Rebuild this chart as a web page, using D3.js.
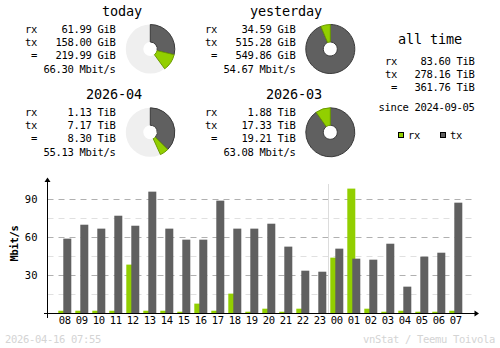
<!DOCTYPE html>
<html><head><meta charset="utf-8">
<script src="https://cdn.jsdelivr.net/npm/d3@7"></script>
<style>
html,body{margin:0;padding:0;background:#fff;}
svg{display:block;}
text{font-family:'DejaVu Sans Mono',monospace;}
</style></head>
<body>
<script>
// ---- data ----
const periods = ["today", "yesterday", "2026-04", "2026-03"];
const rxText = ["61.99 GiB", "34.59 GiB", "1.13 TiB", "1.88 TiB"];
const txText = ["158.00 GiB", "515.28 GiB", "7.17 TiB", "17.33 TiB"];
const totText = ["219.99 GiB", "549.86 GiB", "8.30 TiB", "19.21 TiB"];
const rateText = ["66.30 Mbit/s", "54.67 Mbit/s", "55.13 Mbit/s", "63.08 Mbit/s"];
const rxVal = [61.99, 34.59, 1.13, 1.88];
const txVal = [158.00, 515.28, 7.17, 17.33];
const refTotal = [549.86, 549.86, 19.21, 19.21];

const allTimeLabels = ["rx", "tx", " ="];
const allTimeText = ["83.60 TiB", "278.16 TiB", "361.76 TiB"];
const sinceText = "since 2024-09-05";

const hours = ["08","09","10","11","12","13","14","15","16","17","18","19","20","21","22","23","00","01","02","03","04","05","06","07"];
const rxRate = [1.8,1.8,1.8,1.8,38.2,1.8,1.8,1.0,7.4,1.8,15.3,1.0,3.4,1.0,3.4,0,43.7,98.2,3.4,1.0,1.8,1.0,1.0,1.8];
const txRate = [58.7,69.7,66.6,76.8,68.9,95.8,66.6,57.9,57.9,88.7,66.6,66.6,70.5,52.4,33.4,32.6,50.8,42.9,42.1,54.7,20.8,44.5,47.6,87.1];
const majorTicks = [30, 60, 90];
const minorTicks = [15, 45, 75];

const footerLeft = "2026-04-16 07:55";
const footerRight = "vnStat / Teemu Toivola";

// ---- styles ----
const RX = "#92cf00", RXD = "#6b9a00", TX = "#606060", TXD = "#3a3a3a";
const W = 500, H = 348;
const svg = d3.select("body").append("svg").attr("width", W).attr("height", H);

const small = sel => sel.attr("font-size", "10.5px").attr("letter-spacing", "-0.32px");
const large = sel => sel.attr("font-size", "13.5px").attr("letter-spacing", "-0.12px");

// ---- summary blocks ----
const blocks = [
  {labelX: 25, valRight: 115.6, titleRight: 142, cx: 150.3, cy: 49, dy: 0},
  {labelX: 205, valRight: 295.6, titleRight: 322, cx: 330.3, cy: 49, dy: 0},
  {labelX: 25, valRight: 115.6, titleRight: 142, cx: 150.3, cy: 132.3, dy: 83},
  {labelX: 205, valRight: 295.6, titleRight: 322, cx: 330.3, cy: 132.3, dy: 83}
];
const arcOuter = 24.5, arcInner = 7;
const arc = d3.arc().innerRadius(arcInner).outerRadius(arcOuter);

periods.forEach((p, i) => {
  const b = blocks[i];
  const g = svg.append("g");
  g.append("text").attr("x", b.titleRight).attr("y", 16.3 + b.dy).attr("text-anchor", "end").text(p).call(large);
  const rows = [["rx", rxText[i], 33.2], ["tx", txText[i], 45.5], [" =", totText[i], 58.5]];
  rows.forEach(r => {
    g.append("text").attr("x", b.labelX).attr("y", r[2] + b.dy).attr("xml:space", "preserve").text(r[0]).call(small);
    g.append("text").attr("x", b.valRight).attr("y", r[2] + b.dy).attr("text-anchor", "end").text(r[1]).call(small);
  });
  g.append("text").attr("x", b.valRight).attr("y", 72.8 + b.dy).attr("text-anchor", "end").text(rateText[i]).call(small);

  // pie
  const pg = svg.append("g").attr("transform", `translate(${b.cx},${b.cy})`);
  const txA = 2 * Math.PI * txVal[i] / refTotal[i];
  const rxA = 2 * Math.PI * rxVal[i] / refTotal[i];
  const full = (txVal[i] + rxVal[i]) / refTotal[i] > 0.999;
  if (!full) pg.append("path").attr("d", arc({startAngle: 0, endAngle: 2 * Math.PI})).attr("fill", "#efefef");
  pg.append("path").attr("d", arc({startAngle: 0, endAngle: txA})).attr("fill", TX).attr("stroke", TXD).attr("stroke-width", 1);
  pg.append("path").attr("d", arc({startAngle: txA, endAngle: full ? 2 * Math.PI : txA + rxA})).attr("fill", RX).attr("stroke", RXD).attr("stroke-width", 1);
});

// ---- all time ----
svg.append("text").attr("x", 430).attr("y", 43.5).attr("text-anchor", "middle").text("all time").call(large);
const atY = [65.2, 77.5, 91];
allTimeLabels.forEach((l, i) => {
  svg.append("text").attr("x", 385).attr("y", atY[i]).attr("xml:space", "preserve").text(l).call(small);
  svg.append("text").attr("x", 474.6).attr("y", atY[i]).attr("text-anchor", "end").text(allTimeText[i]).call(small);
});
svg.append("text").attr("x", 474.6).attr("y", 111).attr("text-anchor", "end").text(sinceText).call(small);

// legend
const legend = [["rx", RX, RXD, 398.5], ["tx", TX, TXD, 440.5]];
legend.forEach(l => {
  svg.append("rect").attr("x", l[3]).attr("y", 132.5).attr("width", 5).attr("height", 5).attr("fill", l[1]).attr("stroke", "#000").attr("stroke-width", 1);
  svg.append("text").attr("x", l[3] + 9.5).attr("y", 138.5).text(l[0]).call(small);
});

// ---- bar chart ----
const x = d3.scaleBand().domain(hours).range([56.3, 56.3 + 24 * 17]).paddingInner(0).paddingOuter(0);
const y = d3.scaleLinear().domain([0, 100]).range([313, 186.33]);
const gx0 = 47.5, gx1 = 473;

const grid = svg.append("g");
minorTicks.forEach(v => {
  const yy = Math.round(y(v)) + 0.5;
  grid.append("line").attr("x1", gx0).attr("x2", gx1).attr("y1", yy).attr("y2", yy)
    .attr("stroke", "#e0e0e0").attr("stroke-dasharray", "6,5");
});
majorTicks.forEach(v => {
  const yy = Math.round(y(v)) + 0.5;
  grid.append("line").attr("x1", gx0).attr("x2", gx1).attr("y1", yy).attr("y2", yy)
    .attr("stroke", "#b0b0b0").attr("stroke-dasharray", "6,5");
});
// day divider
svg.append("line").attr("x1", Math.round(x("00")) + 0.5).attr("x2", Math.round(x("00")) + 0.5)
  .attr("y1", 184).attr("y2", 313).attr("stroke", "#dcdcdc");

// bars
const bars = svg.append("g");
hours.forEach((h, i) => {
  const x0 = x(h) + 2;
  if (rxRate[i] > 0) bars.append("rect").attr("x", x0).attr("width", 8)
    .attr("y", y(rxRate[i])).attr("height", y(0) - y(rxRate[i])).attr("fill", RX);
  bars.append("rect").attr("x", x0 + 5).attr("width", 8)
    .attr("y", y(txRate[i])).attr("height", y(0) - y(txRate[i])).attr("fill", TX);
});

// y axis labels
const yAxis = d3.axisLeft(y).tickValues(majorTicks).tickSize(0).tickPadding(0).tickFormat(d3.format("d"));
const yg = svg.append("g").attr("transform", "translate(37.5,0)").call(yAxis);
yg.select(".domain").remove();
yg.selectAll("text").attr("font-family", "'DejaVu Sans Mono',monospace").attr("font-size", "10.5px").attr("fill", "#000").attr("dy", "0.36em");

// x axis labels
const xAxis = d3.axisBottom(x).tickSize(0).tickPadding(0);
const xg = svg.append("g").attr("transform", "translate(0,316)").call(xAxis);
xg.select(".domain").remove();
xg.selectAll("text").attr("font-family", "'DejaVu Sans Mono',monospace").attr("font-size", "10.5px").attr("fill", "#000").attr("dy", "0.78em").attr("letter-spacing", "-0.3px");

// axis lines + arrows
svg.append("line").attr("x1", 47.5).attr("x2", 47.5).attr("y1", 180).attr("y2", 318).attr("stroke", "#000");
svg.append("line").attr("x1", 44).attr("x2", 476).attr("y1", 313.5).attr("y2", 313.5).attr("stroke", "#000");
svg.append("path").attr("d", "M47.5,177.5 L50.5,182 L44.5,182 Z").attr("fill", "#000");
svg.append("path").attr("d", "M479,313.5 L474.5,310.5 L474.5,316.5 Z").attr("fill", "#000");

// y label
svg.append("text").attr("transform", "translate(17.5,243.5) rotate(-90)").attr("text-anchor", "middle")
  .attr("font-weight", "bold").text("Mbit/s").call(small);

// footers
svg.append("text").attr("x", 5).attr("y", 343).attr("fill", "#d4d4d4").text(footerLeft).call(small);
svg.append("text").attr("x", 495).attr("y", 343).attr("text-anchor", "end").attr("fill", "#d4d4d4").text(footerRight).call(small);
</script>
</body></html>
